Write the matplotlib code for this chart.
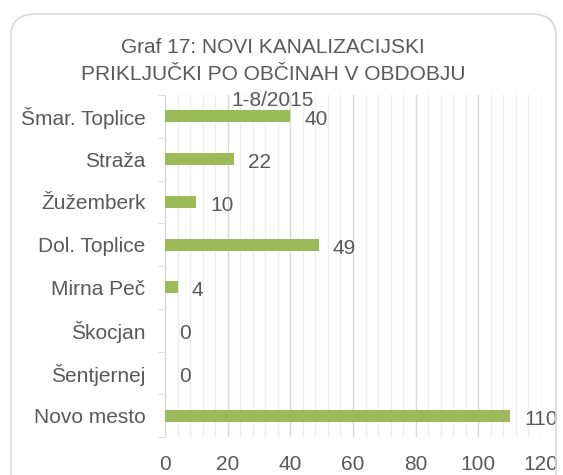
import matplotlib.pyplot as plt
from matplotlib.patches import FancyBboxPatch
from matplotlib.ticker import MultipleLocator

categories = ["Šmar. Toplice", "Straža", "Žužemberk", "Dol. Toplice",
              "Mirna Peč", "Škocjan", "Šentjernej", "Novo mesto"]
values = [40, 22, 10, 49, 4, 0, 0, 110]
xticks = [0, 20, 40, 60, 80, 100, 120]
title = "Graf 17: NOVI KANALIZACIJSKI\nPRIKLJUČKI PO OBČINAH V OBDOBJU\n1-8/2015"

plt.rcParams['font.family'] = ['Liberation Sans', 'DejaVu Sans']
txt = '#595959'
fs = 15

fig = plt.figure(figsize=(5.63, 4.75), dpi=100)
fig.patch.set_facecolor('white')

border = FancyBboxPatch((11/563, -0.1), (556-11)/563, 1 - 14/475 + 0.1,
                        boxstyle="round,pad=0,rounding_size=0.045",
                        transform=fig.transFigure, facecolor='none',
                        edgecolor='#D9D9D9', linewidth=1.2)
fig.patches.append(border)

ax = fig.add_axes([165/563, 1 - 437/475, (541-165)/563, (437-95)/475])
ax.set_facecolor('none')

y = list(range(len(categories)))
ax.barh(y, values, height=0.28, color='#9BBB59', zorder=3)
for yi, v in zip(y, values):
    ax.text(v + 4.6, yi + 0.08, str(v), va='center', ha='left',
            fontsize=fs, color=txt, zorder=4)

ax.set_xlim(0, 120)
ax.set_ylim(len(categories) - 0.5, -0.5)
ax.set_xticks(xticks)
ax.set_xticklabels([str(t) for t in xticks])
ax.xaxis.set_minor_locator(MultipleLocator(4))
ax.grid(axis='x', which='major', color='#D9D9D9', linewidth=1.0, zorder=0)
ax.grid(axis='x', which='minor', color='#EEEEEE', linewidth=1.0, zorder=0)
ax.tick_params(axis='x', which='both', length=0, labelsize=fs, labelcolor=txt, pad=13)

ax.set_yticks(y)
ax.set_yticklabels(categories)
ax.set_yticks([i + 0.5 for i in range(-1, len(categories))], minor=True)
ax.tick_params(axis='y', which='major', length=0, labelsize=fs, labelcolor=txt, pad=14)
ax.tick_params(axis='y', which='minor', length=5, color='#D9D9D9', direction='out')

for s in ['top', 'right', 'bottom']:
    ax.spines[s].set_visible(False)
ax.spines['left'].set_color('#D9D9D9')

fig.text(273/563, 1 - 38/475, title, ha='center', va='top', fontsize=fs,
         color=txt, linespacing=1.5)

fig.savefig('out.png', dpi=100)
